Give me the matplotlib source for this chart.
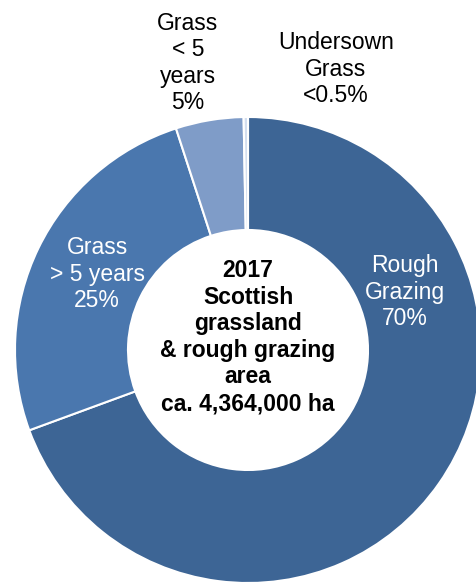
import matplotlib.pyplot as plt

plt.rcParams['font.family'] = ['Liberation Sans', 'DejaVu Sans']

# -------------------------------
# DATA (share of area, %)
# -------------------------------
categories = ["Rough Grazing", "Grass > 5 years", "Grass < 5 years", "Undersown Grass"]
shares = [69.4, 25.6, 4.7, 0.3]
labels = ["Rough\nGrazing\n70%", "Grass\n> 5 years\n25%", "Grass\n< 5\nyears\n5%",
          "Undersown\nGrass\n<0.5%"]
colors = ["#3D6595", "#4A77AE", "#7F9CC8", "#D3DEEF"]
label_colors = ["white", "white", "black", "black"]
centre_text = "2017\nScottish\ngrassland\n& rough grazing\narea\nca. 4,364,000 ha"

# -------------------------------
# FIGURE (axes in pixel units)
# -------------------------------
W, H = 476, 585
fig = plt.figure(figsize=(W / 100, H / 100), dpi=100)
ax = fig.add_axes([0, 0, 1, 1])

cx, cy = 248, H - 350
r_out, r_in = 233, 120

ax.pie(shares, colors=colors, startangle=90, counterclock=False,
       center=(cx, cy), radius=r_out,
       wedgeprops=dict(width=r_out - r_in, edgecolor="white", linewidth=1.5))

ax.set_xlim(0, W)
ax.set_ylim(0, H)
ax.set_aspect("equal")
ax.axis("off")

# label positions in pixels (x, y from top)
label_pos = [(405, 292), (97, 274), (188, 63), (336, 69)]
for lab, (x, y), c in zip(labels, label_pos, label_colors):
    ax.text(x, H - y, lab, ha="center", va="center", fontsize=16.5,
            color=c, linespacing=1.2)

ax.text(cx, H - 337, centre_text, ha="center", va="center", fontsize=16.5,
        fontweight="bold", color="black", linespacing=1.2)

fig.savefig("out.png", dpi=100)
